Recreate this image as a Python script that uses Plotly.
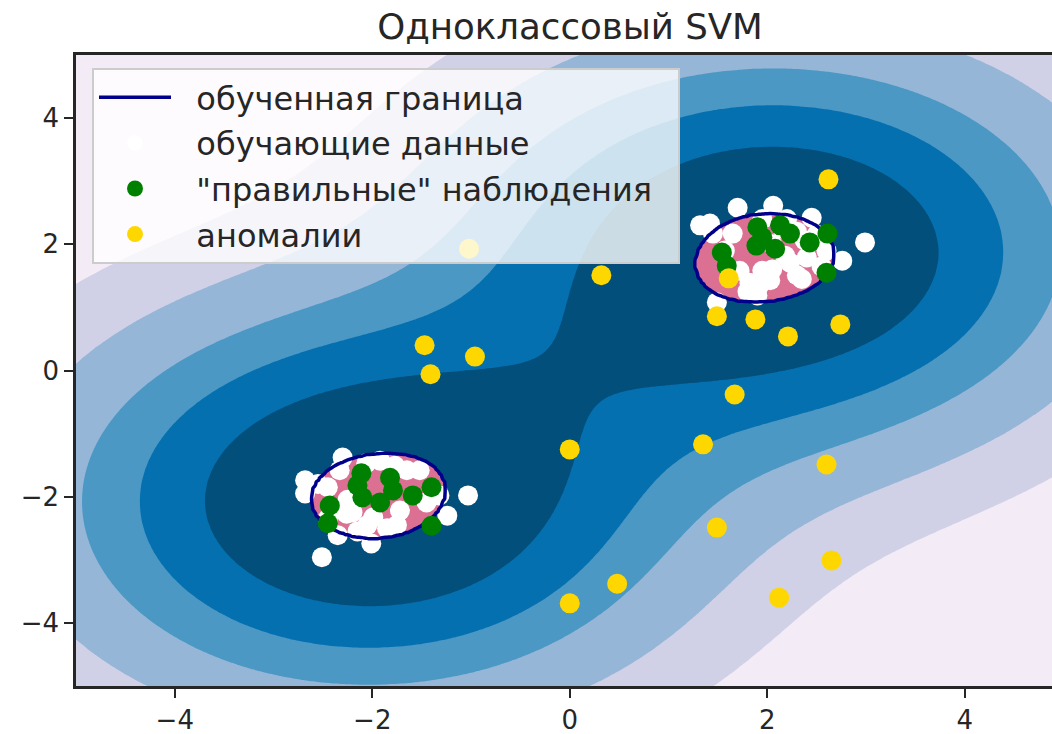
import numpy as np
import plotly.graph_objects as go

# Training samples of the upper cluster
train_upper_x = [1.32, 1.42, 1.70, 2.06, 2.45, 2.99, 2.76, 2.60, 1.49, 1.90, 1.65, 1.95,
                 2.23, 2.40, 1.82, 2.03, 1.45, 1.72, 2.30, 1.57, 2.18, 1.92, 2.38,
                 2.15, 2.30, 2.05, 2.50, 1.95, 2.20, 2.05, 2.35, 2.55, 1.80]
train_upper_y = [2.30, 2.33, 2.58, 2.61, 2.42, 2.03, 1.74, 1.90, 1.08, 1.19, 2.17, 1.58,
                 1.71, 1.79, 1.39, 1.43, 2.17, 1.58, 1.51, 1.90, 1.82, 1.35, 2.06,
                 2.25, 2.20, 2.00, 2.15, 2.40, 2.40, 1.60, 1.45, 1.65, 1.25]
# Training samples of the lower cluster
train_lower_x = [-2.68, -2.68, -2.30, -1.03, -1.24, -2.35, -2.01, -2.51, -2.33, -1.92,
                 -1.52, -1.45, -2.26, -1.99, -1.72, -1.65, -2.06, -1.32, -1.77,
                 -2.20, -2.05, -2.40, -1.75, -2.25, -2.45, -2.55, -2.45, -2.15, -1.85]
train_lower_y = [-1.74, -1.95, -1.38, -1.98, -2.30, -2.61, -2.74, -2.96, -1.58, -1.43,
                 -1.58, -2.09, -2.27, -2.33, -2.22, -1.58, -1.47, -1.98, -1.51,
                 -2.25, -2.45, -2.20, -2.45, -2.05, -1.85, -1.80, -2.35, -2.55, -2.50]

# Regular test observations
regular_x = [1.54, 1.59, 1.90, 2.13, 1.89, 2.08, 2.23, 1.95, 2.43, 2.61, 2.60,
             -2.43, -2.45, -2.11, -1.82, -2.10, -1.92, -2.15, -1.79, -1.59, -1.40, -1.40]
regular_y = [1.87, 1.66, 2.27, 2.30, 1.98, 1.93, 2.17, 2.11, 2.03, 2.17, 1.55,
             -2.14, -2.42, -1.63, -1.70, -2.01, -2.09, -1.82, -1.90, -1.98, -1.85, -2.46]

# Anomalies
anomaly_x = [-1.02, 0.32, 2.62, -1.47, -0.96, -1.41, 1.61, 1.49, 1.88, 2.21,
             2.74, 1.67, 0.00, 1.35, 2.60, 1.49, 2.65, 0.48, 0.00, 2.12]
anomaly_y = [1.93, 1.51, 3.03, 0.40, 0.22, -0.06, 1.46, 0.86, 0.81, 0.54,
             0.73, -0.38, -1.25, -1.17, -1.49, -2.49, -3.01, -3.38, -3.69, -3.60]

# RBF kernel width and decision levels (outer bands ... learned frontier)
GAMMA = 0.13
band_levels = [0.0745, 0.1775, 0.335, 0.49, 0.68, 0.923]
band_colors = ["#f3ebf5", "#d0d1e6", "#95b6d7", "#4b98c5", "#0570b0", "#034f7b", "#db7093"]

grid = np.linspace(-5, 5, 301)
XX, YY = np.meshgrid(grid, grid)


def cluster_kernel(px, py):
    px = np.asarray(px)[None, None, :]
    py = np.asarray(py)[None, None, :]
    d2 = (XX[..., None] - px) ** 2 + (YY[..., None] - py) ** 2
    return np.exp(-GAMMA * d2).mean(axis=-1)


score = cluster_kernel(train_upper_x, train_upper_y) + cluster_kernel(train_lower_x, train_lower_y)
# map the decision levels onto integer steps so the bands can be filled uniformly
level_idx = np.interp(score, [score.min() - 1e-6] + band_levels + [score.max() + 1.0],
                      list(range(len(band_levels) + 2)))

n = len(band_colors)
colorscale = [[i / (n - 1), c] for i, c in enumerate(band_colors)]

fig = go.Figure()
# base layer: filled decision bands and training samples
fig.add_trace(go.Contour(
    x=grid, y=grid, z=level_idx,
    contours=dict(start=1, end=len(band_levels), size=1, coloring="fill", showlines=False),
    colorscale=colorscale, showscale=False, line=dict(width=0),
    hoverinfo="skip", showlegend=False,
))
# overlay: learned frontier drawn above the training samples
fig.add_trace(go.Contour(
    x=grid, y=grid, z=level_idx, xaxis="x2", yaxis="y2",
    contours=dict(start=len(band_levels), end=len(band_levels), size=1, coloring="none"),
    line=dict(color="#00008b", width=3.5),
    showscale=False, hoverinfo="skip",
    name="\u00a0\u00a0обученная граница", showlegend=True, legendgroup="a",
))

train_x = train_upper_x + train_lower_x
train_y = train_upper_y + train_lower_y
fig.add_trace(go.Scatter(
    x=train_x, y=train_y, mode="markers",
    marker=dict(color="white", size=20, line=dict(width=0)),
    name="\u00a0\u00a0обучающие данные", legendgroup="b",
))
# top overlay: test observations
fig.add_trace(go.Scatter(
    x=regular_x, y=regular_y, mode="markers", xaxis="x3", yaxis="y3",
    marker=dict(color="green", size=20, line=dict(width=0)),
    name='\u00a0\u00a0"правильные" наблюдения\u00a0\u00a0', legendgroup="c",
))
fig.add_trace(go.Scatter(
    x=anomaly_x, y=anomaly_y, mode="markers", xaxis="x3", yaxis="y3",
    marker=dict(color="gold", size=20, line=dict(width=0)),
    name="\u00a0\u00a0аномалии", legendgroup="d",
))

L, T, B = 76, 55, 48
W, H = 1052, 734
x_right = -5 + (W - L) / 98.75
x_range = [-5, x_right]
y_range = [-5, 5]

axis_common = dict(
    showgrid=False, zeroline=False, showline=True, linecolor="#262626", linewidth=2.5,
    ticks="outside", ticklen=9, tickwidth=2, tickcolor="#262626",
    tickfont=dict(family="DejaVu Sans", size=26, color="#262626"),
    tickvals=[-4, -2, 0, 2, 4],
)
hidden = dict(visible=False, showgrid=False, zeroline=False)

fig.update_layout(
    xaxis=dict(range=x_range, mirror=True, **axis_common),
    yaxis=dict(range=y_range, mirror=False, **axis_common),
    xaxis2=dict(range=x_range, overlaying="x", matches="x", **hidden),
    yaxis2=dict(range=y_range, overlaying="y", matches="y", **hidden),
    xaxis3=dict(range=x_range, overlaying="x", matches="x", **hidden),
    yaxis3=dict(range=y_range, overlaying="y", matches="y", **hidden),
    width=W, height=H,
    margin=dict(l=L, r=0, t=T, b=B),
    paper_bgcolor="white", plot_bgcolor="white",
    font=dict(family="DejaVu Sans", color="#262626"),
    title=dict(text="Одноклассовый SVM", x=(570 - L) / (W - L), xref="paper",
               xanchor="center", y=1 - 27 / H, yref="container", yanchor="middle",
               font=dict(family="DejaVu Sans", size=35.6, color="#262626")),
    legend=dict(x=(92 - L) / (W - L), y=(686 - 68) / (686 - T), xanchor="left", yanchor="top",
                bgcolor="rgba(255,255,255,0.8)", bordercolor="#cccccc", borderwidth=2,
                font=dict(family="DejaVu Sans", size=32, color="#262626"),
                itemwidth=72, tracegroupgap=1, traceorder="grouped"),
)

fig.write_html("out.html")
